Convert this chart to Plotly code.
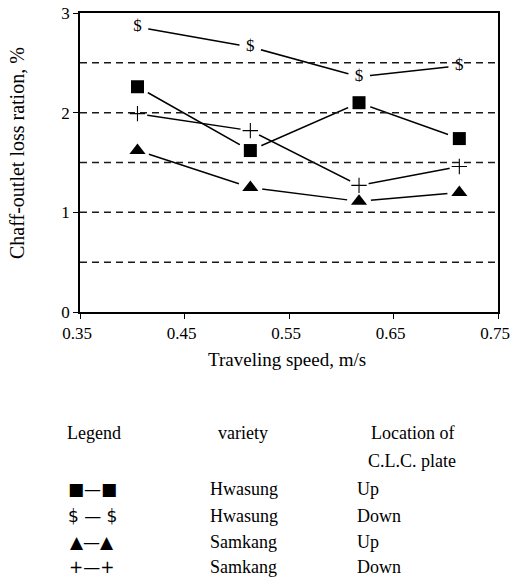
import plotly.graph_objects as go

# Traveling speed (m/s) at which each loss ratio was measured
speed = [0.405, 0.513, 0.617, 0.713]

# Chaff-outlet loss ratio (%) by variety and C.L.C. plate location
hwasung_up = [2.26, 1.62, 2.10, 1.74]
hwasung_down = [2.86, 2.66, 2.36, 2.47]
samkang_up = [1.62, 1.25, 1.11, 1.20]
samkang_down = [1.99, 1.82, 1.27, 1.46]

x_ticks = [0.35, 0.45, 0.55, 0.65, 0.75]
x_tick_labels = ["0.35", "0.45", "0.55", "0.65", "0.75"]
y_ticks = [0, 1, 2, 3]
y_tick_labels = ["0", "1", "2", "3"]
ref_lines = [0.5, 1.0, 1.5, 2.0, 2.5]

legend_rows = [
    ("■—■", "Hwasung", "Up"),
    ("$ — $", "Hwasung", "Down"),
    ("▲—▲", "Samkang", "Up"),
    ("+—+", "Samkang", "Down"),
]

SERIF = "Liberation Serif"
W, H = 510, 580
L, R, T, B = 80, 12, 13, 268
PW, PH = W - L - R, H - T - B

series = [hwasung_up, hwasung_down, samkang_up, samkang_down]

fig = go.Figure()

# connecting lines
for ys in series:
    fig.add_trace(go.Scatter(x=speed, y=ys, mode="lines",
                             line=dict(color="black", width=1.5),
                             hoverinfo="skip", showlegend=False))

# white halos leave a small gap between each line and its markers
halo_sizes = [24, 22, 24, 20]
for ys, hs in zip(series, halo_sizes):
    fig.add_trace(go.Scatter(x=speed, y=ys, mode="markers",
                             marker=dict(symbol="circle", size=hs, color="white"),
                             hoverinfo="skip", showlegend=False))

fig.add_trace(go.Scatter(x=speed, y=hwasung_up, mode="markers",
                         marker=dict(symbol="square", size=13, color="black"),
                         name="Hwasung Up", showlegend=False))
fig.add_trace(go.Scatter(x=speed, y=hwasung_down, mode="text", text=["$"] * len(speed),
                         textposition="middle center",
                         textfont=dict(family=SERIF, size=17, color="black"),
                         name="Hwasung Down", showlegend=False))
fig.add_trace(go.Scatter(x=speed, y=samkang_up, mode="markers",
                         marker=dict(symbol="triangle-up", size=14, color="black"),
                         name="Samkang Up", showlegend=False))
fig.add_trace(go.Scatter(x=speed, y=samkang_down, mode="markers",
                         marker=dict(symbol="cross-thin", size=11,
                                     line=dict(color="black", width=1.1)),
                         name="Samkang Down", showlegend=False))

# dashed reference lines across the plot
for v in ref_lines:
    fig.add_shape(type="line", xref="paper", yref="y", x0=0, x1=1, y0=v, y1=v,
                  layer="above",
                  line=dict(color="#1a1a1a", width=1.5, dash="7px,5px"))


def px(xpix):
    return (xpix - L) / PW


def py(ypix):
    return (H - B - ypix) / PH


def note(text, xpix, ypix, xanchor="left", size=18, family=SERIF):
    fig.add_annotation(text=text, xref="paper", yref="paper", x=px(xpix), y=py(ypix),
                       xanchor=xanchor, yanchor="middle", showarrow=False,
                       font=dict(family=family, size=size, color="black"))


# axis titles
note("Traveling speed, m/s", 287, 359, xanchor="center", size=19)
fig.add_annotation(text="Chaff-outlet loss ration, %", xref="paper", yref="paper",
                   x=px(17), y=py(153), xanchor="center", yanchor="middle",
                   textangle=-90, showarrow=False,
                   font=dict(family=SERIF, size=20, color="black"))

# legend table
note("Legend", 65, 433)
note("variety", 243, 433, xanchor="center")
note("Location of", 412, 433, xanchor="center")
note("C.L.C. plate", 412, 461, xanchor="center")
row_y = [489, 516, 542, 567]
for (sym, variety, loc), yy in zip(legend_rows, row_y):
    note(sym, 92, yy, xanchor="center", size=17, family="DejaVu Sans")
    note(variety, 208, yy)
    note(loc, 355, yy)

axis_common = dict(showline=True, mirror=True, linecolor="black", linewidth=1.5,
                   ticks="outside", ticklen=5, tickcolor="black", showgrid=False,
                   zeroline=False, automargin=False,
                   tickfont=dict(family=SERIF, size=17, color="black"))

fig.update_layout(
    width=W, height=H, autosize=False,
    margin=dict(l=L, r=R, t=T, b=B),
    paper_bgcolor="white", plot_bgcolor="white",
    xaxis=dict(range=[0.35, 0.75], tickvals=x_ticks, ticktext=x_tick_labels,
               ticklabeloverflow="allow", ticklabelshift=-3, **axis_common),
    yaxis=dict(range=[0, 3], tickvals=y_ticks, ticktext=y_tick_labels, **axis_common),
)

fig.write_html("out.html")
